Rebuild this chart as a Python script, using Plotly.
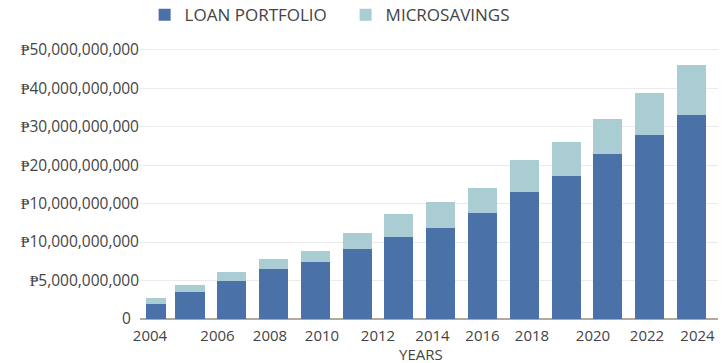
import plotly.graph_objects as go

# Data (values in chart units: one gridline step = 5)
loan_portfolio = [1.95, 3.51, 4.94, 6.49, 7.40, 9.09, 10.65, 11.82, 13.77, 16.49, 18.57, 21.43, 23.90, 26.55]
microsavings = [0.78, 0.91, 1.16, 1.30, 1.43, 2.08, 2.99, 3.37, 3.24, 4.16, 4.42, 4.54, 5.45, 6.45]

y_tick_values = [0, 5, 10, 15, 20, 25, 30, 35]
y_tick_labels = ["0\u00a0\u00a0", "₱5,000,000,000", "₱10,000,000,000", "₱10,000,000,000",
                 "₱20,000,000,000", "₱30,000,000,000", "₱40,000,000,000", "₱50,000,000,000"]

x_tick_positions = [0.043, 1.658, 2.914, 4.158, 5.498, 6.801, 7.998, 9.182, 10.641, 11.933, 13.141]
x_tick_labels = ["2004", "2006", "2008", "2010", "2012", "2014", "2016", "2018", "2020", "2022", "2024"]
x_title = "YEARS"

x = list(range(len(loan_portfolio)))

widths = [0.48] + [0.694] * (len(x) - 1)
offsets = [-0.053] + [-0.347] * (len(x) - 1)

BLUE = "#4a72a8"
LIGHT = "#a9cdd3"
TEXT = "#444444"
FONT = "Open Sans"

fig = go.Figure()
fig.add_trace(go.Bar(x=x, y=loan_portfolio, name="LOAN PORTFOLIO",
                     marker=dict(color=BLUE, line=dict(width=0)),
                     width=widths, offset=offsets))
fig.add_trace(go.Bar(x=x, y=microsavings, name="MICROSAVINGS",
                     marker=dict(color=LIGHT, line=dict(width=0)),
                     width=widths, offset=offsets))

fig.update_layout(
    barmode="stack",
    width=723, height=363,
    margin=dict(l=140, r=5, t=42, b=44, autoexpand=False),
    paper_bgcolor="white", plot_bgcolor="white",
    font=dict(family=FONT, size=15, color=TEXT),
    showlegend=True,
    legend=dict(orientation="h", x=0.008, xanchor="left",
                yref="container", y=0.958, yanchor="middle",
                font=dict(family=FONT, size=17, color=TEXT),
                itemwidth=30, entrywidth=156, entrywidthmode="pixels",
                traceorder="normal", bgcolor="rgba(0,0,0,0)"),
    xaxis=dict(range=[-0.196, 13.632], tickmode="array",
               tickvals=x_tick_positions, ticktext=x_tick_labels,
               showgrid=False, zeroline=False, showline=False, ticks="",
               ticklabelstandoff=6,
               tickfont=dict(family=FONT, size=15, color=TEXT)),
    yaxis=dict(range=[0, 36], tickmode="array",
               tickvals=y_tick_values, ticktext=y_tick_labels,
               showgrid=True, gridcolor="#ebebeb", gridwidth=1,
               zeroline=True, zerolinecolor="#b5aa9a", zerolinewidth=1.5,
               showline=False, ticks="",
               tickfont=dict(family=FONT, size=15.5, color=TEXT)),
    annotations=[dict(text=x_title, xref="paper", yref="paper",
                      x=0.486, y=-0.127, xanchor="center", yanchor="middle",
                      showarrow=False, font=dict(family=FONT, size=15, color=TEXT))],
)

fig.write_html("out.html")
